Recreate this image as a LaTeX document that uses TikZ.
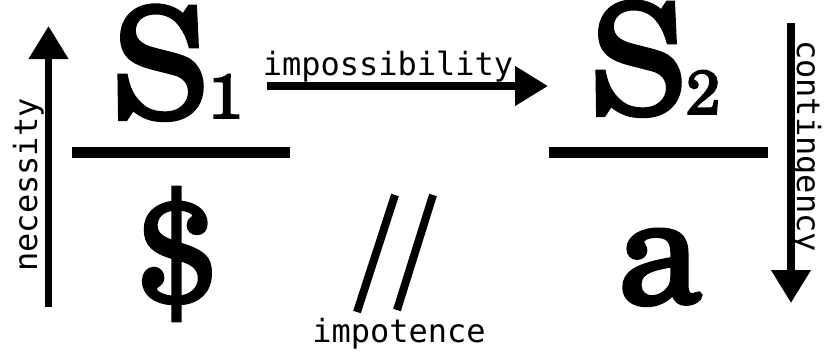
\documentclass[tikz,border=0pt]{standalone}
\usepackage{fontspec}
\newfontfamily\labfont{DejaVu Sans Mono}
\newfontfamily\bigsym{TeX Gyre Schola}[FakeBold=2.5]
\usetikzlibrary{arrows.meta}
\newcommand{\subsym}[1]{{\fontsize{62}{62}\selectfont #1}}
\tikzset{
  sym/.style={inner sep=0pt, anchor=base, font=\bigsym\fontsize{153}{153}\selectfont},
  lab/.style={inner sep=0pt, anchor=base, font=\labfont\fontsize{32}{32}\selectfont},
  bar/.style={line width=11pt},
  arr/.style={line width=7.5pt, -{Triangle[length=33pt,width=38pt]}},
  slash/.style={line width=8pt},
}
\begin{document}
\begin{tikzpicture}[x=1pt,y=-1pt]
\useasboundingbox (0,0) rectangle (827,356);
% symbols
\node[sym] (s1) at (177,118) {S\subsym{1}};
\node[sym, font=\bigsym\fontsize{143}{143}\selectfont] (sb) at (177,302) {\$};
\node[sym] (a) at (660,303) {a};
\node[sym] (s2) at (655,114) {S\subsym{2}};
% bars
\draw[bar] (72,152.5) -- (290,152.5);
\draw[bar] (549,152.5) -- (768,152.5);
% arrows
\coordinate (n0) at (48.5,307);
\coordinate (n1) at (48.5,26);
\draw[arr] (n0) -- (n1);
\coordinate (i0) at (267,86);
\coordinate (i1) at (548,86);
\draw[arr] (i0) -- (i1);
\coordinate (c0) at (791,23);
\coordinate (c1) at (791,303);
\draw[arr] (c0) -- (c1);
% labels
\node[lab, rotate=90] (nec) at (37,185) {necessity};
\node[lab] (imp) at (388,75) {impossibility};
\node[lab, rotate=-90] (con) at (797,146) {contingency};
\node[lab] (ipt) at (399,342) {impotence};
% slashes
\draw[slash] (395,195) -- (357,312);
\draw[slash] (433,195) -- (397,310);
\end{tikzpicture}
\end{document}
